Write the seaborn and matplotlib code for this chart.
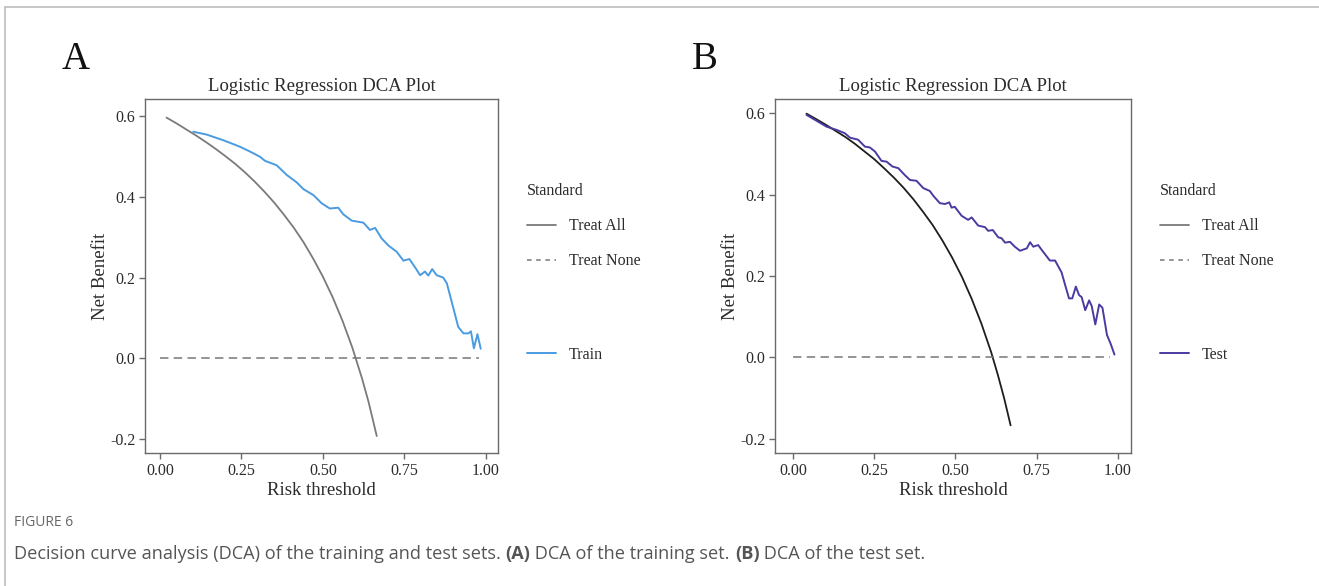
import numpy as np
import pandas as pd
import seaborn as sns
import matplotlib
matplotlib.use("Agg")
import matplotlib.pyplot as plt
from matplotlib.lines import Line2D

# ---------------- data ----------------
# Panel A (training set)
a_all_x = [0.02, 0.05, 0.08, 0.11, 0.14, 0.17, 0.20, 0.23, 0.26, 0.29, 0.32, 0.35,
           0.38, 0.41, 0.44, 0.47, 0.50, 0.53, 0.56, 0.59, 0.62, 0.64, 0.665]
a_all_y = [0.596, 0.582, 0.567, 0.552, 0.536, 0.519, 0.501, 0.482, 0.461, 0.438, 0.413, 0.386,
           0.356, 0.324, 0.288, 0.247, 0.202, 0.151, 0.093, 0.027, -0.050, -0.108, -0.192]
a_none_x = [0.0, 0.98]
a_none_y = [0.0, 0.0]
train_x = [0.102, 0.143, 0.194, 0.245, 0.276, 0.307, 0.322, 0.358, 0.389, 0.419, 0.440, 0.471,
           0.496, 0.521, 0.547, 0.562, 0.588, 0.624, 0.644, 0.660, 0.680, 0.700, 0.726, 0.747,
           0.765, 0.783, 0.798, 0.813, 0.823, 0.835, 0.849, 0.869, 0.880, 0.895, 0.915, 0.931,
           0.946, 0.954, 0.963, 0.974, 0.984]
train_y = [0.561, 0.554, 0.540, 0.524, 0.512, 0.499, 0.489, 0.478, 0.454, 0.436, 0.419, 0.404,
           0.384, 0.371, 0.373, 0.357, 0.341, 0.336, 0.318, 0.323, 0.297, 0.280, 0.264, 0.242,
           0.246, 0.225, 0.206, 0.215, 0.205, 0.221, 0.206, 0.200, 0.186, 0.140, 0.078, 0.062,
           0.062, 0.067, 0.025, 0.060, 0.024]

# Panel B (test set)
b_all_x = [0.041, 0.07, 0.10, 0.13, 0.16, 0.19, 0.22, 0.25, 0.28, 0.31, 0.34, 0.37,
           0.40, 0.43, 0.46, 0.49, 0.52, 0.55, 0.58, 0.61, 0.63, 0.65, 0.67]
b_all_y = [0.599, 0.586, 0.572, 0.557, 0.542, 0.525, 0.506, 0.487, 0.465, 0.442, 0.417, 0.389,
           0.358, 0.325, 0.287, 0.245, 0.198, 0.144, 0.083, 0.013, -0.041, -0.100, -0.167]
b_none_x = [0.0, 0.975]
b_none_y = [0.0, 0.0]
test_x = [0.041, 0.103, 0.134, 0.159, 0.175, 0.200, 0.221, 0.236, 0.252, 0.272, 0.288, 0.306,
          0.324, 0.344, 0.360, 0.380, 0.401, 0.421, 0.432, 0.452, 0.468, 0.481, 0.488, 0.498,
          0.519, 0.539, 0.550, 0.570, 0.591, 0.601, 0.615, 0.632, 0.642, 0.653, 0.668, 0.683,
          0.699, 0.720, 0.730, 0.740, 0.755, 0.766, 0.791, 0.807, 0.827, 0.838, 0.850, 0.860,
          0.871, 0.881, 0.889, 0.900, 0.912, 0.920, 0.931, 0.943, 0.953, 0.967, 0.979, 0.990]
test_y = [0.596, 0.567, 0.559, 0.551, 0.540, 0.535, 0.518, 0.516, 0.506, 0.483, 0.481, 0.469,
          0.465, 0.448, 0.436, 0.434, 0.416, 0.409, 0.397, 0.379, 0.377, 0.381, 0.368, 0.370,
          0.348, 0.338, 0.344, 0.324, 0.320, 0.311, 0.313, 0.295, 0.293, 0.282, 0.284, 0.272,
          0.262, 0.268, 0.283, 0.272, 0.276, 0.264, 0.238, 0.238, 0.209, 0.178, 0.145, 0.145,
          0.174, 0.153, 0.148, 0.116, 0.140, 0.126, 0.081, 0.130, 0.122, 0.055, 0.032, 0.007]

x_ticks = [0.00, 0.25, 0.50, 0.75, 1.00]
x_ticklabels = ["0.00", "0.25", "0.50", "0.75", "1.00"]
y_ticks = [-0.2, 0.0, 0.2, 0.4, 0.6]
y_ticklabels = ["-0.2", "0.0", "0.2", "0.4", "0.6"]

title = "Logistic Regression DCA Plot"
xlabel = "Risk threshold"
ylabel = "Net Benefit"
legend_title = "Standard"
caption_head = "FIGURE 6"

# ---------------- style ----------------
sns.set_theme(style="white")
plt.rcParams["font.family"] = ["Liberation Serif", "DejaVu Serif"]

W, H = 1319, 586
fig = plt.figure(figsize=(W / 100, H / 100), dpi=100)

def fx(px):
    return px / W

def fy(py):
    return 1 - py / H

SPINE = "#6a6a6a"
TXT = "#2b2b2b"
ALLGRAY = "#7a7a7a"
NONEGRAY = "#777777"
TRAIN_C = "#4a9be0"
TEST_C = "#4b3aa0"

panels = [
    dict(left=145, right=498, xlim=(-0.046, 1.037), ylim=(-0.234, 0.642),
         all_x=a_all_x, all_y=a_all_y, all_c=ALLGRAY, none_x=a_none_x, none_y=a_none_y,
         mx=train_x, my=train_y, mc=TRAIN_C, mlabel="Train", letter="A", letter_x=76,
         leg_x=527),
    dict(left=775, right=1131, xlim=(-0.056, 1.041), ylim=(-0.235, 0.635),
         all_x=b_all_x, all_y=b_all_y, all_c="#1e1e1e", none_x=b_none_x, none_y=b_none_y,
         mx=test_x, my=test_y, mc=TEST_C, mlabel="Test", letter="B", letter_x=705,
         leg_x=1160),
]

top_px, bot_px = 99, 453
for p in panels:
    ax = fig.add_axes([fx(p["left"]), fy(bot_px), fx(p["right"] - p["left"]),
                       (bot_px - top_px) / H])
    df_all = pd.DataFrame({"x": p["all_x"], "y": p["all_y"]})
    df_none = pd.DataFrame({"x": p["none_x"], "y": p["none_y"]})
    df_m = pd.DataFrame({"x": p["mx"], "y": p["my"]})
    sns.lineplot(data=df_all, x="x", y="y", ax=ax, color=p["all_c"], lw=1.3,
                 estimator=None, sort=False)
    sns.lineplot(data=df_none, x="x", y="y", ax=ax, color=NONEGRAY, lw=1.1,
                 estimator=None, sort=False, linestyle=(0, (5.5, 3.5)))
    sns.lineplot(data=df_m, x="x", y="y", ax=ax, color=p["mc"], lw=1.4,
                 estimator=None, sort=False)
    ax.set_xlim(*p["xlim"])
    ax.set_ylim(*p["ylim"])
    ax.set_xticks(x_ticks)
    ax.set_xticklabels(x_ticklabels)
    ax.set_yticks(y_ticks)
    ax.set_yticklabels(y_ticklabels)
    ax.tick_params(axis="both", which="major", direction="out", length=4, width=1,
                   color=SPINE, labelsize=11.5, labelcolor=TXT, pad=3,
                   bottom=True, left=True)
    for s in ax.spines.values():
        s.set_color(SPINE)
        s.set_linewidth(1.0)
    ax.set_xlabel(xlabel, fontsize=13.5, color=TXT, labelpad=2.5)
    ax.set_ylabel(ylabel, fontsize=13.5, color=TXT, labelpad=1)
    ax.set_title(title, fontsize=13.5, color=TXT, pad=6)
    ax.grid(False)

    # panel letter
    fig.text(fx(p["letter_x"]), fy(69), p["letter"], fontsize=28, color="#111111",
             ha="center", va="baseline")

    # legends
    h_all = Line2D([], [], color=ALLGRAY, lw=1.3)
    h_none = Line2D([], [], color=NONEGRAY, lw=1.1, linestyle=(0, (3, 3)))
    leg1 = fig.legend([h_all, h_none], ["Treat All", "Treat None"], title=legend_title,
                      loc="upper left", bbox_to_anchor=(fx(p["leg_x"]), fy(183)),
                      frameon=False, borderpad=0, borderaxespad=0, handlelength=1.8,
                      handletextpad=0.8, labelspacing=1.2, fontsize=11.5,
                      title_fontsize=11.5, alignment="left")
    for t in leg1.get_texts():
        t.set_color(TXT)
    leg1.get_title().set_color(TXT)
    h_m = Line2D([], [], color=p["mc"], lw=1.4)
    leg2 = fig.legend([h_m], [p["mlabel"]], loc="upper left",
                      bbox_to_anchor=(fx(p["leg_x"]), fy(347)),
                      frameon=False, borderpad=0, borderaxespad=0, handlelength=1.8,
                      handletextpad=0.8, fontsize=11.5)
    for t in leg2.get_texts():
        t.set_color(TXT)

# outer frame lines
fig.add_artist(Line2D([fx(5), 1.0], [fy(7), fy(7)], transform=fig.transFigure,
                      color="#bdbdbd", lw=1.2))
fig.add_artist(Line2D([fx(5), fx(5)], [fy(7), 0.0], transform=fig.transFigure,
                      color="#bdbdbd", lw=1.2))

# caption
cap_family = ["Open Sans", "DejaVu Sans"]
fig.text(fx(14), fy(523), caption_head, fontsize=10, color="#666666", family=cap_family,
         va="center", ha="left")
pieces = [("Decision curve analysis (DCA) of the training and test sets. ", "normal"),
          ("(A)", "bold"),
          (" DCA of the training set. ", "normal"),
          ("(B)", "bold"),
          (" DCA of the test set.", "normal")]
renderer = fig.canvas.get_renderer()
xcur = 14
for txt, wt in pieces:
    t = fig.text(fx(xcur), fy(554), txt, fontsize=13.1, color="#555555", family=cap_family,
                 weight=wt, va="center", ha="left")
    bb = t.get_window_extent(renderer=renderer)
    xcur += bb.width

fig.savefig("out.png", dpi=100)
